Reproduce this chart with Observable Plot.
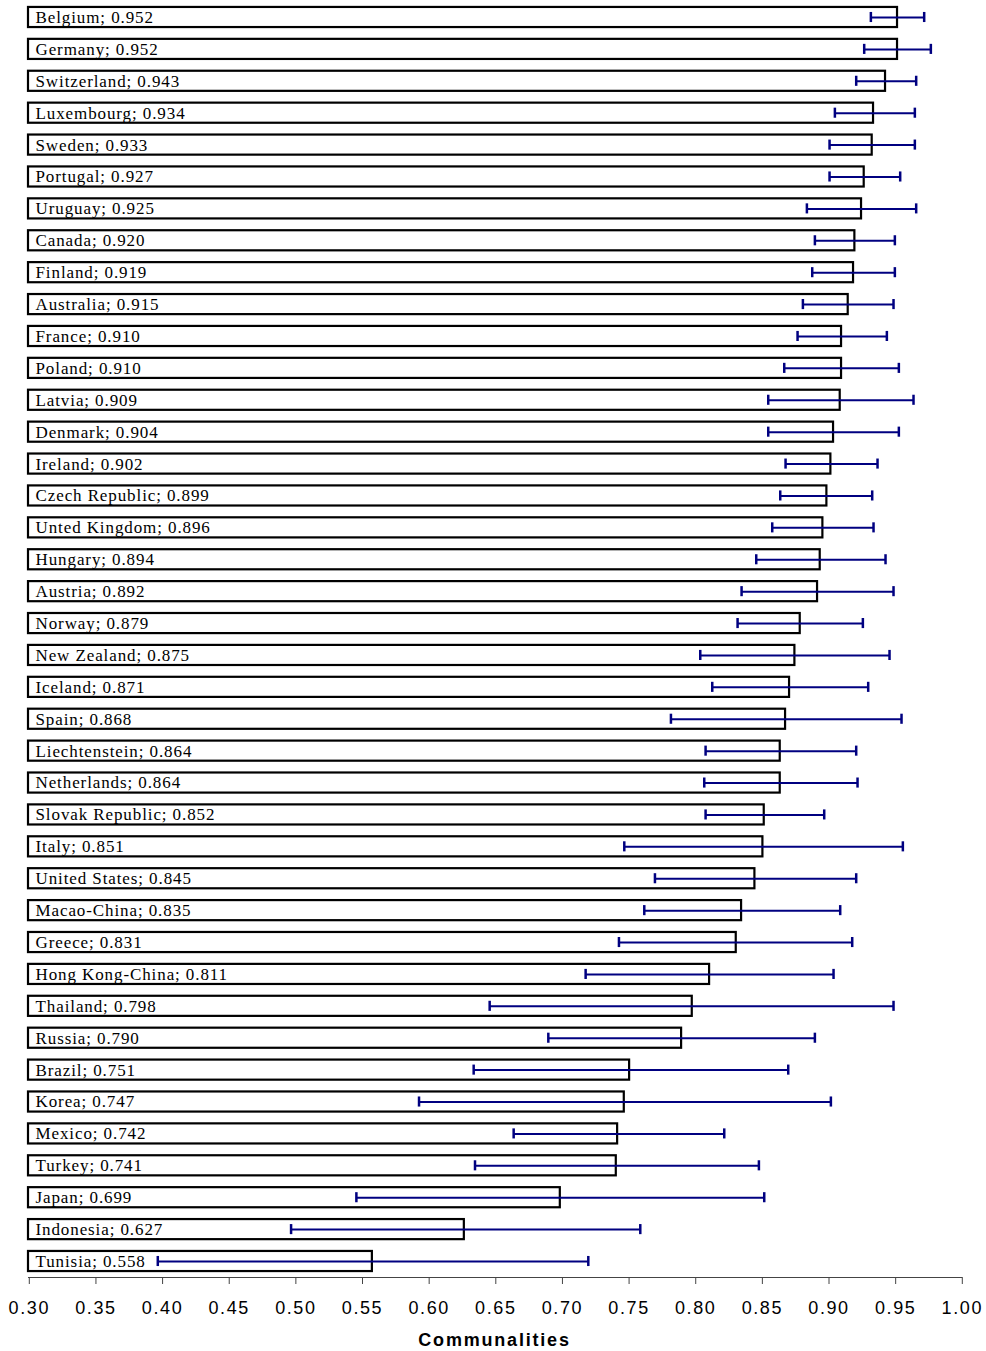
<!DOCTYPE html>
<html>
<head>
<meta charset="utf-8">
<script src="https://cdn.jsdelivr.net/npm/d3@7"></script>
<script src="https://cdn.jsdelivr.net/npm/@observablehq/plot@0.6"></script>
<style>
  body { margin: 0; background: #fff; }
  #chart svg { display: block; }
  g[aria-label="text"] { letter-spacing: 0.9px; }
  g[aria-label="x-axis tick label"] { letter-spacing: 1.6px; }
  #title {
    width: 933px; margin-left: 28px; text-align: center;
    font: bold 18px "Liberation Sans", Arial, sans-serif;
    letter-spacing: 1.8px; line-height: 28px; color: #000;
  }
</style>
</head>
<body>
<div id="chart"></div>
<div id="title">Communalities</div>
<script>
const countries = ["Belgium","Germany","Switzerland","Luxembourg","Sweden","Portugal","Uruguay","Canada","Finland","Australia","France","Poland","Latvia","Denmark","Ireland","Czech Republic","Unted Kingdom","Hungary","Austria","Norway","New Zealand","Iceland","Spain","Liechtenstein","Netherlands","Slovak Republic","Italy","United States","Macao-China","Greece","Hong Kong-China","Thailand","Russia","Brazil","Korea","Mexico","Turkey","Japan","Indonesia","Tunisia"];
const values = [0.952,0.952,0.943,0.934,0.933,0.927,0.925,0.920,0.919,0.915,0.910,0.910,0.909,0.904,0.902,0.899,0.896,0.894,0.892,0.879,0.875,0.871,0.868,0.864,0.864,0.852,0.851,0.845,0.835,0.831,0.811,0.798,0.790,0.751,0.747,0.742,0.741,0.699,0.627,0.558];
const lower = [0.932,0.927,0.921,0.905,0.901,0.901,0.884,0.890,0.888,0.881,0.877,0.867,0.855,0.855,0.868,0.864,0.858,0.846,0.835,0.832,0.804,0.813,0.782,0.808,0.807,0.808,0.747,0.770,0.762,0.743,0.718,0.646,0.690,0.634,0.593,0.664,0.635,0.546,0.497,0.397];
const upper = [0.972,0.977,0.966,0.965,0.965,0.954,0.966,0.950,0.950,0.949,0.944,0.953,0.964,0.953,0.937,0.933,0.934,0.943,0.949,0.926,0.946,0.930,0.955,0.921,0.922,0.897,0.956,0.921,0.909,0.918,0.904,0.949,0.890,0.870,0.902,0.822,0.848,0.852,0.759,0.720];
const tickValues = [0.30,0.35,0.40,0.45,0.50,0.55,0.60,0.65,0.70,0.75,0.80,0.85,0.90,0.95,1.00];
const axisTitle = "Communalities";

const data = countries.map((c, i) => ({
  country: c, value: values[i], lo: lower[i], hi: upper[i],
  label: `${c}; ${values[i].toFixed(3)}`
}));

const chart = Plot.plot({
  width: 986,
  height: 1326,
  marginLeft: 28,
  marginRight: 25,
  marginTop: 1,
  marginBottom: 49,
  style: { fontFamily: "Liberation Sans, Arial, sans-serif", background: "#fff", color: "#000" },
  x: { domain: [0.30, 1.00] },
  y: { domain: countries, paddingInner: 0.37, paddingOuter: 0.1865, axis: null },
  marks: [
    Plot.barX(data, { y: "country", x1: 0.30, x2: "value", fill: "white", stroke: "black", strokeWidth: 2.2 }),
    Plot.text(data, { y: "country", x: 0.30, text: "label", textAnchor: "start", dx: 7,
      fontFamily: "Liberation Serif, Times New Roman, serif", fontSize: 17, fill: "black" }),
    Plot.ruleY(data, { y: "country", x1: "lo", x2: "hi", stroke: "#000080", strokeWidth: 2 }),
    Plot.tickX(data, { y: "country", x: "lo", stroke: "#000080", strokeWidth: 2.5, insetTop: 5, insetBottom: 5 }),
    Plot.tickX(data, { y: "country", x: "hi", stroke: "#000080", strokeWidth: 2.5, insetTop: 5, insetBottom: 5 }),
    Plot.frame({ anchor: "bottom", stroke: "#444" }),
    Plot.axisX({ ticks: tickValues, tickFormat: d => d.toFixed(2), tickSize: 7, tickPadding: 17,
      fontSize: 18, stroke: "#444", label: null, dx: 0.8 })
  ]
});
document.getElementById("chart").appendChild(chart);
document.getElementById("title").textContent = axisTitle;
</script>
</body>
</html>
